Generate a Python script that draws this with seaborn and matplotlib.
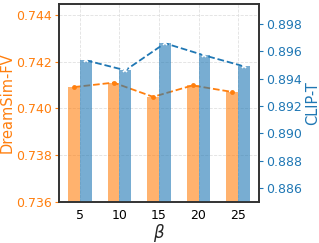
import numpy as np
import pandas as pd
import seaborn as sns
import matplotlib
matplotlib.use("Agg")
import matplotlib.pyplot as plt

beta = ["5", "10", "15", "20", "25"]
dreamsim = [0.74092, 0.74111, 0.74050, 0.74099, 0.74071]
clip_t = [0.89535, 0.89462, 0.89660, 0.89571, 0.89491]

orange = "#ff7f0e"
blue = "#1f77b4"

sns.set_theme(style="whitegrid")
plt.rcParams["font.family"] = ["DejaVu Sans"]

df1 = pd.DataFrame({"beta": beta * 2, "val": dreamsim + [np.nan] * 5,
                    "metric": ["DreamSim-FV"] * 5 + ["CLIP-T"] * 5})
df2 = pd.DataFrame({"beta": beta * 2, "val": [np.nan] * 5 + clip_t,
                    "metric": ["DreamSim-FV"] * 5 + ["CLIP-T"] * 5})

fig, ax1 = plt.subplots(figsize=(3.19, 2.43), dpi=100)
ax2 = ax1.twinx()

sns.barplot(data=df1, x="beta", y="val", hue="metric", ax=ax1, width=0.6,
            palette=[orange, blue], alpha=0.6, saturation=1, legend=False,
            gap=0, linewidth=0)
sns.barplot(data=df2, x="beta", y="val", hue="metric", ax=ax2, width=0.6,
            palette=[orange, blue], alpha=0.6, saturation=1, legend=False,
            gap=0, linewidth=0)

pos = np.arange(len(beta))
sns.lineplot(x=pos - 0.15, y=dreamsim, ax=ax1, color=orange, linestyle="--",
             marker="o", markersize=3.5, markeredgewidth=0, linewidth=1.3)
sns.lineplot(x=pos + 0.15, y=clip_t, ax=ax2, color=blue, linestyle="--",
             marker="x", markersize=3.5, markeredgewidth=1.2, linewidth=1.3)

ax1.set_ylim(0.736, 0.7445)
ax2.set_ylim(0.885, 0.8995)
ax1.set_yticks([0.736, 0.738, 0.740, 0.742, 0.744])
ax2.set_yticks([0.886, 0.888, 0.890, 0.892, 0.894, 0.896, 0.898])
ax1.yaxis.set_major_formatter(matplotlib.ticker.FormatStrFormatter("%.3f"))
ax2.yaxis.set_major_formatter(matplotlib.ticker.FormatStrFormatter("%.3f"))

ax1.set_xlabel(r"$\beta$", fontsize=12, labelpad=0)
ax1.set_ylabel("DreamSim-FV", color=orange, fontsize=10.5, labelpad=1)
ax2.set_ylabel("CLIP-T", color=blue, fontsize=10.5, labelpad=2)

ax1.tick_params(axis="y", colors=orange, labelsize=9, length=3, width=0.8, pad=2)
ax2.tick_params(axis="y", colors=blue, labelsize=9, length=3, width=0.8, pad=2)
ax1.tick_params(axis="x", labelsize=9, length=3, width=0.8, pad=2, colors="black")

ax1.grid(True, color="#e0e0e0", linestyle="--", linewidth=0.6)
ax2.grid(False)
ax1.set_axisbelow(True)
ax1.set_facecolor("white")
for ax in (ax1, ax2):
    for s in ax.spines.values():
        s.set_color("#333333")
        s.set_linewidth(1.2)

fig.subplots_adjust(left=0.185, right=0.812, top=0.985, bottom=0.17)
fig.savefig("out.png", dpi=100)
